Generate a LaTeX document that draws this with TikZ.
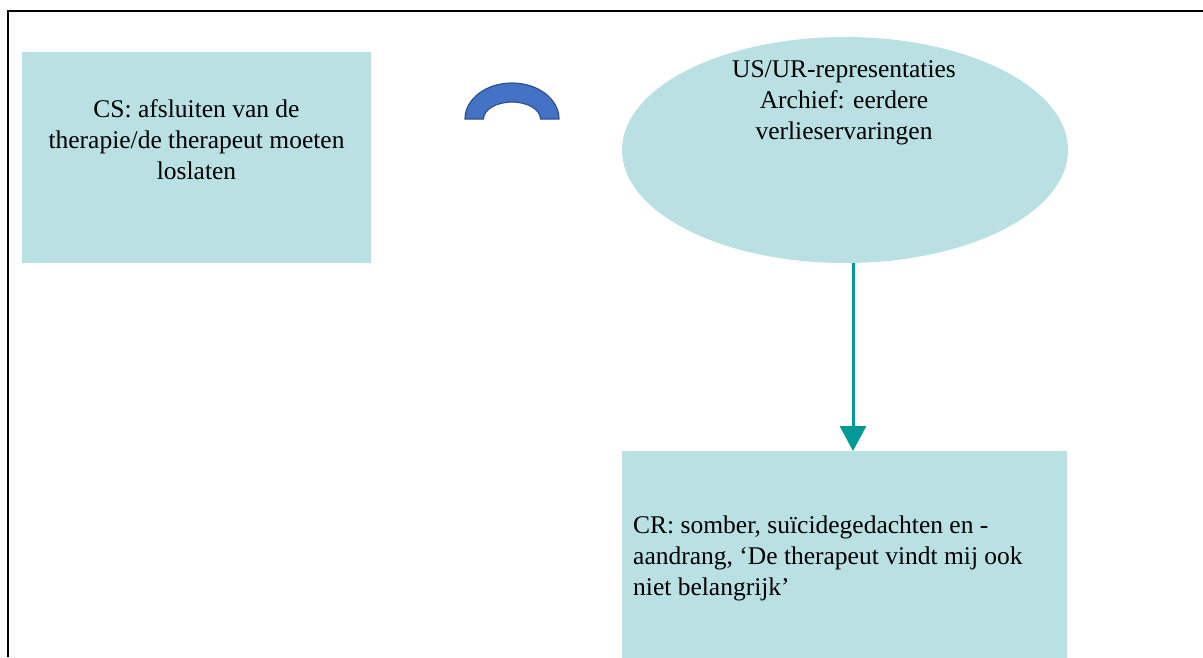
\documentclass[tikz,border=0pt]{standalone}
\usepackage{fontspec}
\setmainfont{Liberation Serif}
\usetikzlibrary{arrows.meta,shapes.geometric}
\definecolor{boxfill}{RGB}{185,224,227}
\definecolor{arrowteal}{RGB}{0,153,153}
\definecolor{arcfill}{RGB}{68,114,196}
\definecolor{arcline}{RGB}{47,82,143}
\tikzset{
  panel/.style={rectangle, fill=boxfill, draw=none, inner sep=0pt},
  oval/.style={ellipse, fill=boxfill, draw=none, inner sep=0pt},
  txt/.style={inner sep=0pt, anchor=base, font=\fontsize{25.5}{31}\selectfont},
  flow/.style={draw=arrowteal, line width=3pt, -{Triangle[width=26pt,length=25pt]}, color=arrowteal},
  frameline/.style={line width=2.5pt, black}
}
\begin{document}
\begin{tikzpicture}[x=1pt,y=-1pt]
\useasboundingbox (0,0) rectangle (1203,657);
% outer frame (top and left edges)
\coordinate (ftl) at (8,11);
\coordinate (ftr) at (1203,11);
\coordinate (fbl) at (8,657);
\draw[frameline] (ftr) -- (ftl) -- (fbl);
% conditioned stimulus box
\node[panel, minimum width=349pt, minimum height=211pt] (cs) at (196.5,157.5) {};
\node[txt] (cstext) at (196.5,117) {\begin{tabular}[t]{@{}c@{}}CS: afsluiten van de\\therapie/de therapeut moeten\\loslaten\end{tabular}};
% block arc
\path[fill=arcfill, draw=arcline, line width=1.2pt]
  (465,119) arc[start angle=180, end angle=360, x radius=47, y radius=36]
  -- (540.5,119) arc[start angle=0, end angle=-180, x radius=28.5, y radius=17]
  -- cycle;
% US/UR representation
\node[oval, minimum width=446pt, minimum height=226pt] (us) at (845,150) {};
\node[txt] (ustext) at (844,77) {\begin{tabular}[t]{@{}c@{}}US/UR-representaties\\Archief: eerdere\\verlieservaringen\end{tabular}};
% conditioned response box
\node[panel, minimum width=445pt, minimum height=212pt, anchor=north west] (cr) at (622,451) {};
\node[txt, anchor=base west] (crtext) at (633,533) {\begin{tabular}[t]{@{}l@{}}CR: somber, suïcidegedachten en -\\aandrang, ‘De therapeut vindt mij ook\\niet belangrijk’\end{tabular}};
% connector
\coordinate (axis) at (853,0);
\draw[flow] (us.south -| axis) -- (cr.north -| axis);
\end{tikzpicture}
\end{document}
